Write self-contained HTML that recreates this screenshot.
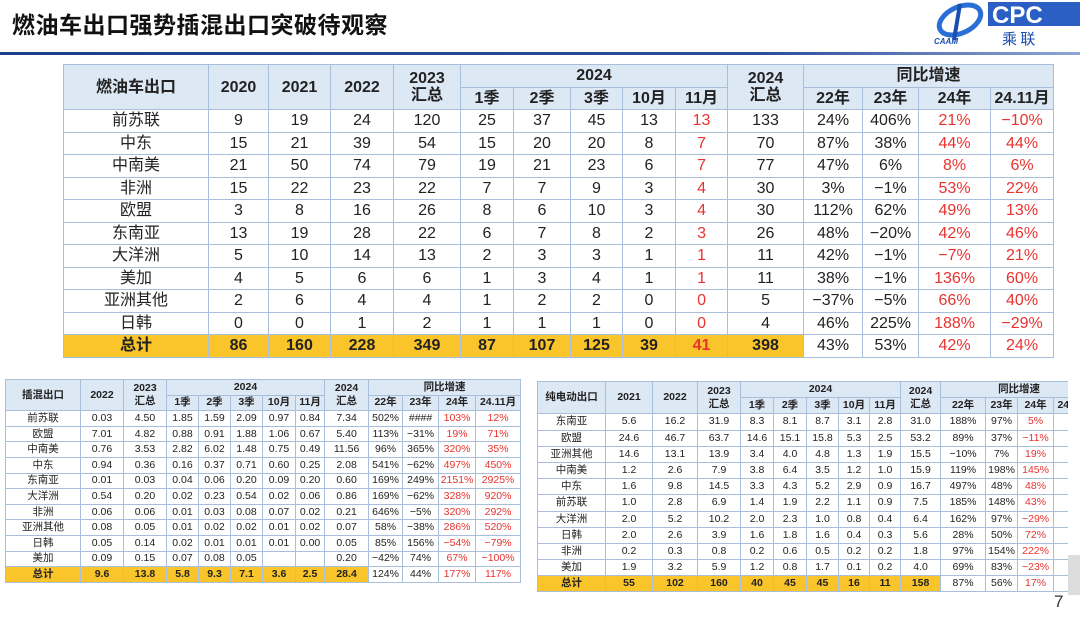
<!DOCTYPE html>
<html><head><meta charset="utf-8"><style>
body{margin:0;width:1080px;height:620px;background:#fff;position:relative;overflow:hidden;font-family:"Liberation Sans","Noto Sans CJK SC",sans-serif;color:#222}
.title{position:absolute;left:12px;top:6px;font-size:23px;font-weight:bold;font-family:"Noto Sans CJK SC",sans-serif;color:#111;letter-spacing:0.5px}
.bar{position:absolute;left:0;top:52px;width:1080px;height:3px;background:linear-gradient(90deg,#1d3f8a,#2a4c9a 70%,#8fa6d4)}
table{border-collapse:collapse;table-layout:fixed;position:absolute}
td{border:1px solid #a9bedb;text-align:center;padding:0;white-space:nowrap;overflow:hidden}
.h td{background:#dde8f5;font-weight:bold}
.t td{font-weight:bold}
.t td.y{background:#f9c52a}
.r{color:#e8332f}
.m{left:63px;top:64px;font-size:16px;width:990px}
.m td{line-height:19px;height:21.5px}
.m .h td{line-height:17px;height:21.5px}
.a{left:5px;top:379px;font-size:10.5px;width:515px}
.a td{line-height:13px;height:14.6px}
.b{left:537px;top:381px;font-size:10.5px;width:560px}
.b td{line-height:13px;height:15.2px}
.clip{position:absolute;left:0;top:0;width:1068px;height:620px;overflow:hidden}
.logo{position:absolute;left:930px;top:0;width:150px;height:48px}
</style></head><body>
<div class="title">燃油车出口强势插混出口突破待观察</div>
<div class="logo">
<svg width="150" height="48"><ellipse cx="30" cy="20" rx="22" ry="13" fill="none" stroke="#2a6fd6" stroke-width="5" transform="rotate(-25 30 20)"/><path d="M30 4 L24 40" stroke="#1a4fb0" stroke-width="4"/><text x="4" y="44" font-size="8" fill="#1a4fb0" font-style="italic" font-weight="bold" font-family="Liberation Sans">CAAM</text>
<rect x="58" y="2" width="92" height="24" fill="#2b5fc4"/><text x="62" y="23" font-size="24" fill="#fff" font-weight="bold" font-family="Liberation Sans">CPC</text>
<text x="72" y="44" font-size="15" fill="#1a4fb0" font-family="Noto Sans CJK SC">乘 联</text></svg></div>
<div class="bar"></div>

<table class="m">
<colgroup><col style="width:145px"><col style="width:60px"><col style="width:62px"><col style="width:63px"><col style="width:67px"><col style="width:53px"><col style="width:57px"><col style="width:52px"><col style="width:53px"><col style="width:52px"><col style="width:76px"><col style="width:59px"><col style="width:56px"><col style="width:72px"><col style="width:63px"></colgroup>
<tr class="h"><td rowspan="2">燃油车出口</td><td rowspan="2">2020</td><td rowspan="2">2021</td><td rowspan="2">2022</td><td rowspan="2">2023<br>汇总</td><td colspan="5">2024</td><td rowspan="2">2024<br>汇总</td><td colspan="4">同比增速</td></tr>
<tr class="h"><td>1季</td><td>2季</td><td>3季</td><td>10月</td><td>11月</td><td>22年</td><td>23年</td><td>24年</td><td>24.11月</td></tr>
<tr><td>前苏联</td><td>9</td><td>19</td><td>24</td><td>120</td><td>25</td><td>37</td><td>45</td><td>13</td><td class="r">13</td><td>133</td><td>24%</td><td>406%</td><td class="r">21%</td><td class="r">−10%</td></tr>
<tr><td>中东</td><td>15</td><td>21</td><td>39</td><td>54</td><td>15</td><td>20</td><td>20</td><td>8</td><td class="r">7</td><td>70</td><td>87%</td><td>38%</td><td class="r">44%</td><td class="r">44%</td></tr>
<tr><td>中南美</td><td>21</td><td>50</td><td>74</td><td>79</td><td>19</td><td>21</td><td>23</td><td>6</td><td class="r">7</td><td>77</td><td>47%</td><td>6%</td><td class="r">8%</td><td class="r">6%</td></tr>
<tr><td>非洲</td><td>15</td><td>22</td><td>23</td><td>22</td><td>7</td><td>7</td><td>9</td><td>3</td><td class="r">4</td><td>30</td><td>3%</td><td>−1%</td><td class="r">53%</td><td class="r">22%</td></tr>
<tr><td>欧盟</td><td>3</td><td>8</td><td>16</td><td>26</td><td>8</td><td>6</td><td>10</td><td>3</td><td class="r">4</td><td>30</td><td>112%</td><td>62%</td><td class="r">49%</td><td class="r">13%</td></tr>
<tr><td>东南亚</td><td>13</td><td>19</td><td>28</td><td>22</td><td>6</td><td>7</td><td>8</td><td>2</td><td class="r">3</td><td>26</td><td>48%</td><td>−20%</td><td class="r">42%</td><td class="r">46%</td></tr>
<tr><td>大洋洲</td><td>5</td><td>10</td><td>14</td><td>13</td><td>2</td><td>3</td><td>3</td><td>1</td><td class="r">1</td><td>11</td><td>42%</td><td>−1%</td><td class="r">−7%</td><td class="r">21%</td></tr>
<tr><td>美加</td><td>4</td><td>5</td><td>6</td><td>6</td><td>1</td><td>3</td><td>4</td><td>1</td><td class="r">1</td><td>11</td><td>38%</td><td>−1%</td><td class="r">136%</td><td class="r">60%</td></tr>
<tr><td>亚洲其他</td><td>2</td><td>6</td><td>4</td><td>4</td><td>1</td><td>2</td><td>2</td><td>0</td><td class="r">0</td><td>5</td><td>−37%</td><td>−5%</td><td class="r">66%</td><td class="r">40%</td></tr>
<tr><td>日韩</td><td>0</td><td>0</td><td>1</td><td>2</td><td>1</td><td>1</td><td>1</td><td>0</td><td class="r">0</td><td>4</td><td>46%</td><td>225%</td><td class="r">188%</td><td class="r">−29%</td></tr>
<tr class="t"><td class="y">总计</td><td class="y">86</td><td class="y">160</td><td class="y">228</td><td class="y">349</td><td class="y">87</td><td class="y">107</td><td class="y">125</td><td class="y">39</td><td class="y r">41</td><td class="y">398</td><td style="font-weight:normal">43%</td><td style="font-weight:normal">53%</td><td class="r" style="font-weight:normal">42%</td><td class="r" style="font-weight:normal">24%</td></tr>
</table>

<table class="a">
<colgroup><col style="width:75px"><col style="width:43px"><col style="width:43px"><col style="width:32px"><col style="width:32px"><col style="width:32px"><col style="width:33px"><col style="width:29px"><col style="width:44px"><col style="width:34px"><col style="width:36px"><col style="width:37px"><col style="width:45px"></colgroup>
<tr class="h"><td rowspan="2">插混出口</td><td rowspan="2">2022</td><td rowspan="2">2023<br>汇总</td><td colspan="5">2024</td><td rowspan="2">2024<br>汇总</td><td colspan="4">同比增速</td></tr>
<tr class="h"><td>1季</td><td>2季</td><td>3季</td><td>10月</td><td>11月</td><td>22年</td><td>23年</td><td>24年</td><td>24.11月</td></tr>
<tr><td>前苏联</td><td>0.03</td><td>4.50</td><td>1.85</td><td>1.59</td><td>2.09</td><td>0.97</td><td>0.84</td><td>7.34</td><td>502%</td><td>####</td><td class="r">103%</td><td class="r">12%</td></tr>
<tr><td>欧盟</td><td>7.01</td><td>4.82</td><td>0.88</td><td>0.91</td><td>1.88</td><td>1.06</td><td>0.67</td><td>5.40</td><td>113%</td><td>−31%</td><td class="r">19%</td><td class="r">71%</td></tr>
<tr><td>中南美</td><td>0.76</td><td>3.53</td><td>2.82</td><td>6.02</td><td>1.48</td><td>0.75</td><td>0.49</td><td>11.56</td><td>96%</td><td>365%</td><td class="r">320%</td><td class="r">35%</td></tr>
<tr><td>中东</td><td>0.94</td><td>0.36</td><td>0.16</td><td>0.37</td><td>0.71</td><td>0.60</td><td>0.25</td><td>2.08</td><td>541%</td><td>−62%</td><td class="r">497%</td><td class="r">450%</td></tr>
<tr><td>东南亚</td><td>0.01</td><td>0.03</td><td>0.04</td><td>0.06</td><td>0.20</td><td>0.09</td><td>0.20</td><td>0.60</td><td>169%</td><td>249%</td><td class="r">2151%</td><td class="r">2925%</td></tr>
<tr><td>大洋洲</td><td>0.54</td><td>0.20</td><td>0.02</td><td>0.23</td><td>0.54</td><td>0.02</td><td>0.06</td><td>0.86</td><td>169%</td><td>−62%</td><td class="r">328%</td><td class="r">920%</td></tr>
<tr><td>非洲</td><td>0.06</td><td>0.06</td><td>0.01</td><td>0.03</td><td>0.08</td><td>0.07</td><td>0.02</td><td>0.21</td><td>646%</td><td>−5%</td><td class="r">320%</td><td class="r">292%</td></tr>
<tr><td>亚洲其他</td><td>0.08</td><td>0.05</td><td>0.01</td><td>0.02</td><td>0.02</td><td>0.01</td><td>0.02</td><td>0.07</td><td>58%</td><td>−38%</td><td class="r">286%</td><td class="r">520%</td></tr>
<tr><td>日韩</td><td>0.05</td><td>0.14</td><td>0.02</td><td>0.01</td><td>0.01</td><td>0.01</td><td>0.00</td><td>0.05</td><td>85%</td><td>156%</td><td class="r">−54%</td><td class="r">−79%</td></tr>
<tr><td>美加</td><td>0.09</td><td>0.15</td><td>0.07</td><td>0.08</td><td>0.05</td><td></td><td></td><td>0.20</td><td>−42%</td><td>74%</td><td class="r">67%</td><td class="r">−100%</td></tr>
<tr class="t"><td class="y">总计</td><td class="y">9.6</td><td class="y">13.8</td><td class="y">5.8</td><td class="y">9.3</td><td class="y">7.1</td><td class="y">3.6</td><td class="y">2.5</td><td class="y">28.4</td><td style="font-weight:normal">124%</td><td style="font-weight:normal">44%</td><td class="r" style="font-weight:normal">177%</td><td class="r" style="font-weight:normal">117%</td></tr>
</table>

<div class="clip">
<table class="b">
<colgroup><col style="width:68px"><col style="width:47px"><col style="width:45px"><col style="width:43px"><col style="width:33px"><col style="width:33px"><col style="width:32px"><col style="width:31px"><col style="width:31px"><col style="width:40px"><col style="width:45px"><col style="width:32px"><col style="width:36px"><col style="width:44px"></colgroup>
<tr class="h"><td rowspan="2">纯电动出口</td><td rowspan="2">2021</td><td rowspan="2">2022</td><td rowspan="2">2023<br>汇总</td><td colspan="5">2024</td><td rowspan="2">2024<br>汇总</td><td colspan="4">同比增速</td></tr>
<tr class="h"><td>1季</td><td>2季</td><td>3季</td><td>10月</td><td>11月</td><td>22年</td><td>23年</td><td>24年</td><td>24.11月</td></tr>
<tr><td>东南亚</td><td>5.6</td><td>16.2</td><td>31.9</td><td>8.3</td><td>8.1</td><td>8.7</td><td>3.1</td><td>2.8</td><td>31.0</td><td>188%</td><td>97%</td><td class="r">5%</td><td class="r">-</td></tr>
<tr><td>欧盟</td><td>24.6</td><td>46.7</td><td>63.7</td><td>14.6</td><td>15.1</td><td>15.8</td><td>5.3</td><td>2.5</td><td>53.2</td><td>89%</td><td>37%</td><td class="r">−11%</td><td class="r">-</td></tr>
<tr><td>亚洲其他</td><td>14.6</td><td>13.1</td><td>13.9</td><td>3.4</td><td>4.0</td><td>4.8</td><td>1.3</td><td>1.9</td><td>15.5</td><td>−10%</td><td>7%</td><td class="r">19%</td><td></td></tr>
<tr><td>中南美</td><td>1.2</td><td>2.6</td><td>7.9</td><td>3.8</td><td>6.4</td><td>3.5</td><td>1.2</td><td>1.0</td><td>15.9</td><td>119%</td><td>198%</td><td class="r">145%</td><td class="r">-</td></tr>
<tr><td>中东</td><td>1.6</td><td>9.8</td><td>14.5</td><td>3.3</td><td>4.3</td><td>5.2</td><td>2.9</td><td>0.9</td><td>16.7</td><td>497%</td><td>48%</td><td class="r">48%</td><td class="r">-</td></tr>
<tr><td>前苏联</td><td>1.0</td><td>2.8</td><td>6.9</td><td>1.4</td><td>1.9</td><td>2.2</td><td>1.1</td><td>0.9</td><td>7.5</td><td>185%</td><td>148%</td><td class="r">43%</td><td></td></tr>
<tr><td>大洋洲</td><td>2.0</td><td>5.2</td><td>10.2</td><td>2.0</td><td>2.3</td><td>1.0</td><td>0.8</td><td>0.4</td><td>6.4</td><td>162%</td><td>97%</td><td class="r">−29%</td><td class="r">-</td></tr>
<tr><td>日韩</td><td>2.0</td><td>2.6</td><td>3.9</td><td>1.6</td><td>1.8</td><td>1.6</td><td>0.4</td><td>0.3</td><td>5.6</td><td>28%</td><td>50%</td><td class="r">72%</td><td class="r">-</td></tr>
<tr><td>非洲</td><td>0.2</td><td>0.3</td><td>0.8</td><td>0.2</td><td>0.6</td><td>0.5</td><td>0.2</td><td>0.2</td><td>1.8</td><td>97%</td><td>154%</td><td class="r">222%</td><td class="r">1</td></tr>
<tr><td>美加</td><td>1.9</td><td>3.2</td><td>5.9</td><td>1.2</td><td>0.8</td><td>1.7</td><td>0.1</td><td>0.2</td><td>4.0</td><td>69%</td><td>83%</td><td class="r">−23%</td><td class="r">-</td></tr>
<tr class="t"><td class="y">总计</td><td class="y">55</td><td class="y">102</td><td class="y">160</td><td class="y">40</td><td class="y">45</td><td class="y">45</td><td class="y">16</td><td class="y">11</td><td class="y">158</td><td style="font-weight:normal">87%</td><td style="font-weight:normal">56%</td><td class="r" style="font-weight:normal">17%</td><td class="r" style="font-weight:normal">-</td></tr>
</table>
</div>
<div style="position:absolute;left:1068px;top:555px;width:12px;height:40px;background:#ddd"></div>
<div style="position:absolute;left:1054px;top:592px;font-size:17px;color:#333">7</div>
</body></html>
